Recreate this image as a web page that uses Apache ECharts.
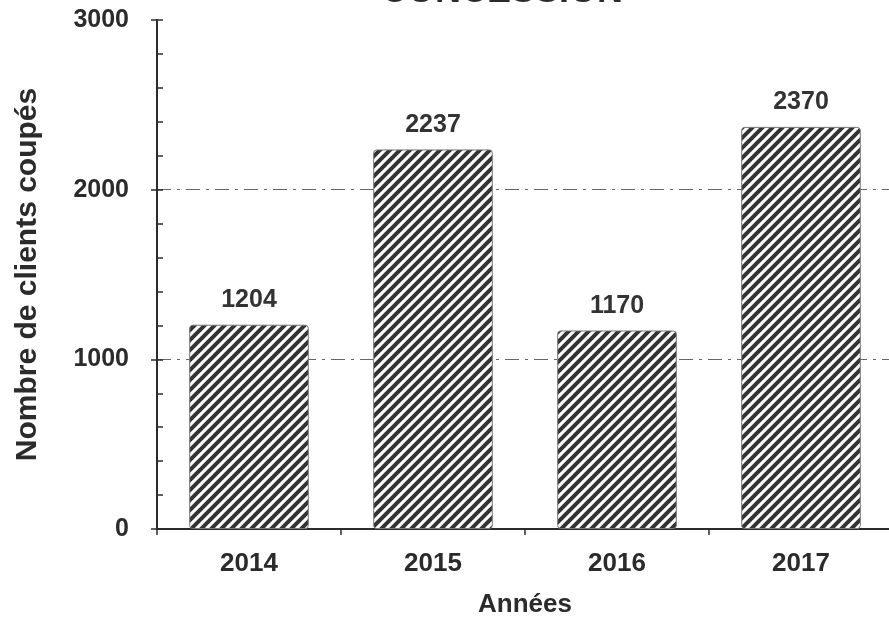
<!DOCTYPE html>
<html>
<head>
<meta charset="utf-8">
<script src="https://cdn.jsdelivr.net/npm/echarts@6/dist/echarts.min.js"></script>
<style>
  html, body { margin: 0; padding: 0; background: #fff; }
  #chart { width: 889px; height: 621px; }
</style>
</head>
<body>
<div id="chart"></div>
<script>
// Clients disconnected per year
const years = ['2014', '2015', '2016', '2017'];
const clientsCoupes = [1204, 2237, 1170, 2370];
const yTicks = [0, 1000, 2000, 3000];

// diagonal hatching used to fill the bars
function makeHatch() {
  const p = 10;
  const c = document.createElement('canvas');
  c.width = p; c.height = p;
  const g = c.getContext('2d');
  g.fillStyle = '#ffffff';
  g.fillRect(0, 0, p, p);
  g.strokeStyle = '#333333';
  g.lineWidth = 4;
  g.lineCap = 'square';
  g.beginPath();
  g.moveTo(-p, p); g.lineTo(p, -p);
  g.moveTo(0, p * 2); g.lineTo(p * 2, 0);
  g.moveTo(0, p); g.lineTo(p, 0);
  g.stroke();
  return c;
}

const chart = echarts.init(document.getElementById('chart'));
const ink = '#2b2b2b';
const font = 'Liberation Sans, Arial, sans-serif';
const clear = 'rgba(0,0,0,0)';

chart.setOption({
  backgroundColor: '#ffffff',
  animation: false,
  title: {
    text: 'CONCESSION',
    left: 497, textAlign: 'center', top: -31,
    textStyle: { fontFamily: font, fontSize: 36, fontWeight: 'bold', color: ink }
  },
  grid: { left: 157, top: 20, bottom: 92, width: 736, containLabel: false, outerBoundsMode: 'none' },
  xAxis: {
    type: 'category',
    data: years,
    name: 'Années',
    nameLocation: 'middle',
    nameGap: 63,
    nameTextStyle: { fontFamily: font, fontSize: 26, fontWeight: 'bold', color: ink },
    axisLine: { lineStyle: { color: ink, width: 2 } },
    axisTick: { show: true, length: 6, lineStyle: { color: ink, width: 1.5 } },
    axisLabel: { margin: 22, fontFamily: font, fontSize: 26, fontWeight: 'bold', color: ink }
  },
  yAxis: [{
    type: 'value',
    min: yTicks[0], max: yTicks[yTicks.length - 1], interval: 1000,
    name: 'Nombre de clients coupés',
    nameLocation: 'middle',
    nameGap: 114,
    nameTextStyle: { fontFamily: font, fontSize: 30, fontWeight: 'bold', color: ink },
    axisLine: { show: true, lineStyle: { color: ink, width: 2 } },
    axisTick: { show: true, inside: true, length: 6, lineStyle: { color: ink, width: 1.5 } },
    minorTick: { show: true, splitNumber: 5, length: 6, lineStyle: { color: ink, width: 1.5 } },
    axisLabel: {
      margin: 28, fontFamily: font, fontSize: 25, fontWeight: 'bold', color: ink,
      formatter: v => String(v)
    },
    splitLine: {
      show: true,
      lineStyle: { color: [clear, '#666', '#666', clear], width: 1, type: [14, 6, 3, 6] }
    }
  }, {
    type: 'value', position: 'left',
    min: yTicks[0], max: yTicks[yTicks.length - 1], interval: 1000,
    axisLine: { show: false },
    axisTick: { show: true, length: 6, lineStyle: { color: ink, width: 1.5 } },
    axisLabel: { show: false },
    splitLine: { show: false }
  }],
  series: [{
    type: 'bar',
    data: clientsCoupes,
    barWidth: '65%',
    itemStyle: {
      color: { image: makeHatch(), repeat: 'repeat' },
      borderColor: '#777', borderWidth: 1, borderRadius: 3
    },
    label: {
      show: true, position: 'top', distance: 12,
      fontFamily: font, fontSize: 25, fontWeight: 'bold', color: '#333'
    }
  }]
});
</script>
</body>
</html>
